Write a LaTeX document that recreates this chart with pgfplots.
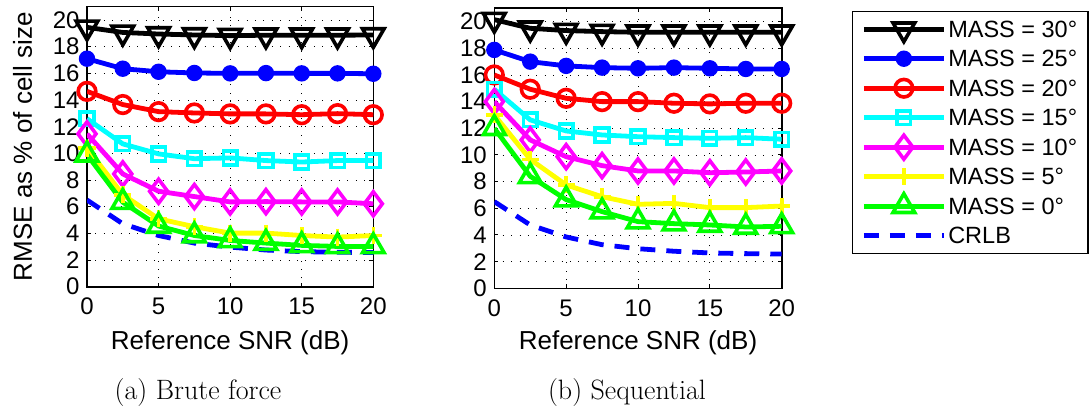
\documentclass[border=0pt]{standalone}
\usepackage{fontspec}
\usepackage{pgfplots}
\pgfplotsset{compat=1.18}
\newfontfamily\axfont{Liberation Sans}
\definecolor{mcyan}{rgb}{0,1,1}
\definecolor{mmagenta}{rgb}{1,0,1}
\definecolor{myellow}{rgb}{1,1,0}
\definecolor{mgreen}{rgb}{0,1,0}
\definecolor{mblue}{rgb}{0,0,1}
\definecolor{mred}{rgb}{1,0,0}

\pgfplotsset{
  mystyle/.style={
    scale only axis, height=280pt,
    xmin=0,xmax=20,ymin=0,ymax=21,
    xtick={0,5,10,15,20}, ytick={0,2,...,20},
    grid=major,
    major grid style={black, line width=0.9pt, dash pattern=on 0.9pt off 7.5pt},
    axis line style={line width=1.6pt},
    tick align=inside, major tick length=4pt, tick style={line width=1pt, black},
    tick label style={font=\axfont\fontsize{24}{24}\selectfont},
    xticklabel style={yshift=-8pt},
    yticklabel style={xshift=-4pt},
    /pgf/number format/assume math mode=true,
    every axis plot/.append style={line width=4.8pt},
    legend image code/.code={\draw[mark repeat=2,mark phase=2] plot coordinates {(0pt,0pt) (40pt,0pt) (80pt,0pt)};},
  },
  s30/.style={black, mark=triangle, mark size=12.5pt, mark options={rotate=180, solid, line width=3.6pt}},
  s25/.style={mblue, mark=*, mark size=7.2pt, mark options={solid, line width=2pt}},
  s20/.style={mred, mark=o, mark size=8.8pt, mark options={solid, line width=3.6pt}},
  s15/.style={mcyan, mark=square, mark size=6.8pt, mark options={solid, line width=3.6pt}},
  s10/.style={mmagenta, mark=diamond, mark size=12pt, mark options={solid, line width=3.6pt}},
  s5/.style={myellow, mark=+, mark size=8.5pt, mark options={solid, line width=3.6pt}},
  s0/.style={mgreen, mark=triangle, mark size=12.5pt, mark options={solid, line width=3.6pt}},
  scr/.style={mblue, no marks, dash pattern=on 15pt off 11pt},
}

\begin{document}
\begin{tikzpicture}[x=1pt,y=1pt]
\useasboundingbox (0,0) rectangle (1092,410);

\begin{axis}[mystyle, width=286.3pt, at={(87pt,123.3pt)}, anchor=south west,
  xlabel={Reference SNR (dB)}, ylabel={RMSE as \% of cell size},
  every axis y label/.style={at={(axis description cs:-0.2253,0.5)}, rotate=90, anchor=center, font=\axfont\fontsize{26}{26}\selectfont},
  every axis x label/.style={at={(axis description cs:0.5,-0.202)}, anchor=center, font=\axfont\fontsize{26}{26}\selectfont},
]
\addplot[s30] coordinates {(0,19.45)(2.5,19.07)(5,18.95)(7.5,18.88)(10,18.83)(12.5,18.86)(15,18.86)(17.5,18.86)(20,18.88)};
\addplot[s25] coordinates {(0,17.1)(2.5,16.35)(5,16.12)(7.5,16.03)(10,16.0)(12.5,16.02)(15,16.0)(17.5,16.0)(20,15.97)};
\addplot[s20] coordinates {(0,14.65)(2.5,13.66)(5,13.13)(7.5,13.03)(10,12.96)(12.5,12.96)(15,12.9)(17.5,12.98)(20,12.9)};
\addplot[s15] coordinates {(0,12.6)(2.5,10.71)(5,9.96)(7.5,9.6)(10,9.66)(12.5,9.46)(15,9.35)(17.5,9.46)(20,9.46)};
\addplot[s10] coordinates {(0,11.46)(2.5,8.46)(5,7.16)(7.5,6.76)(10,6.36)(12.5,6.38)(15,6.36)(17.5,6.36)(20,6.22)};
\addplot[s5] coordinates {(0,10.4)(2.5,6.9)(5,5.09)(7.5,4.5)(10,4.02)(12.5,4.02)(15,3.84)(17.5,3.72)(20,3.84)};
\addplot[s0] coordinates {(0,9.9)(2.5,6.34)(5,4.55)(7.5,3.84)(10,3.47)(12.5,3.27)(15,3.1)(17.5,3.02)(20,3.02)};
\addplot[scr] coordinates {(0,6.5)(2.5,4.72)(5,3.84)(7.5,3.27)(10,2.97)(12.5,2.75)(15,2.63)(17.5,2.58)(20,2.57)};
\end{axis}

\begin{axis}[mystyle, width=287.4pt, at={(494.3pt,121.7pt)}, anchor=south west,
  xlabel={Reference SNR (dB)},
  every axis x label/.style={at={(axis description cs:0.5,-0.196)}, anchor=center, font=\axfont\fontsize{26}{26}\selectfont},
  legend style={at={(axis description cs:1.2436,0.9914)}, anchor=north west,
    draw=black, line width=1.5pt, font=\axfont\fontsize{23.5}{27}\selectfont,
    inner xsep=9pt, inner ysep=3pt, row sep=0pt,
    nodes={inner ysep=0pt, text height=23pt, text depth=6.5pt}},
  legend cell align=left,
]
\addplot[s30] coordinates {(0,20.15)(2.5,19.5)(5,19.33)(7.5,19.25)(10,19.2)(12.5,19.2)(15,19.2)(17.5,19.2)(20,19.2)};
\addplot[s25] coordinates {(0,17.88)(2.5,17.0)(5,16.68)(7.5,16.55)(10,16.5)(12.5,16.55)(15,16.5)(17.5,16.45)(20,16.45)};
\addplot[s20] coordinates {(0,16.0)(2.5,14.93)(5,14.25)(7.5,14.0)(10,14.0)(12.5,13.88)(15,13.83)(17.5,13.88)(20,13.88)};
\addplot[s15] coordinates {(0,14.93)(2.5,12.63)(5,11.8)(7.5,11.5)(10,11.37)(12.5,11.3)(15,11.25)(17.5,11.3)(20,11.18)};
\addplot[s10] coordinates {(0,14.0)(2.5,11.13)(5,9.87)(7.5,9.2)(10,8.8)(12.5,8.8)(15,8.67)(17.5,8.72)(20,8.8)};
\addplot[s5] coordinates {(0,13.0)(2.5,9.67)(5,7.75)(7.5,6.87)(10,6.3)(12.5,6.37)(15,6.05)(17.5,6.05)(20,6.17)};
\addplot[s0] coordinates {(0,12.0)(2.5,8.4)(5,6.65)(7.5,5.75)(10,5.0)(12.5,4.85)(15,4.75)(17.5,4.6)(20,4.65)};
\addplot[scr] coordinates {(0,6.5)(2.5,4.75)(5,3.85)(7.5,3.27)(10,2.97)(12.5,2.78)(15,2.65)(17.5,2.6)(20,2.57)};
\legend{MASS = 30°, MASS = 25°, MASS = 20°, MASS = 15°, MASS = 10°, MASS = 5°, MASS = 0°, CRLB}
\end{axis}

\node[anchor=center, font=\fontsize{28}{30}\selectfont] at (198,17) {(a) Brute force};
\node[anchor=center, font=\fontsize{28}{30}\selectfont] at (627,17) {(b) Sequential};
\end{tikzpicture}
\end{document}
